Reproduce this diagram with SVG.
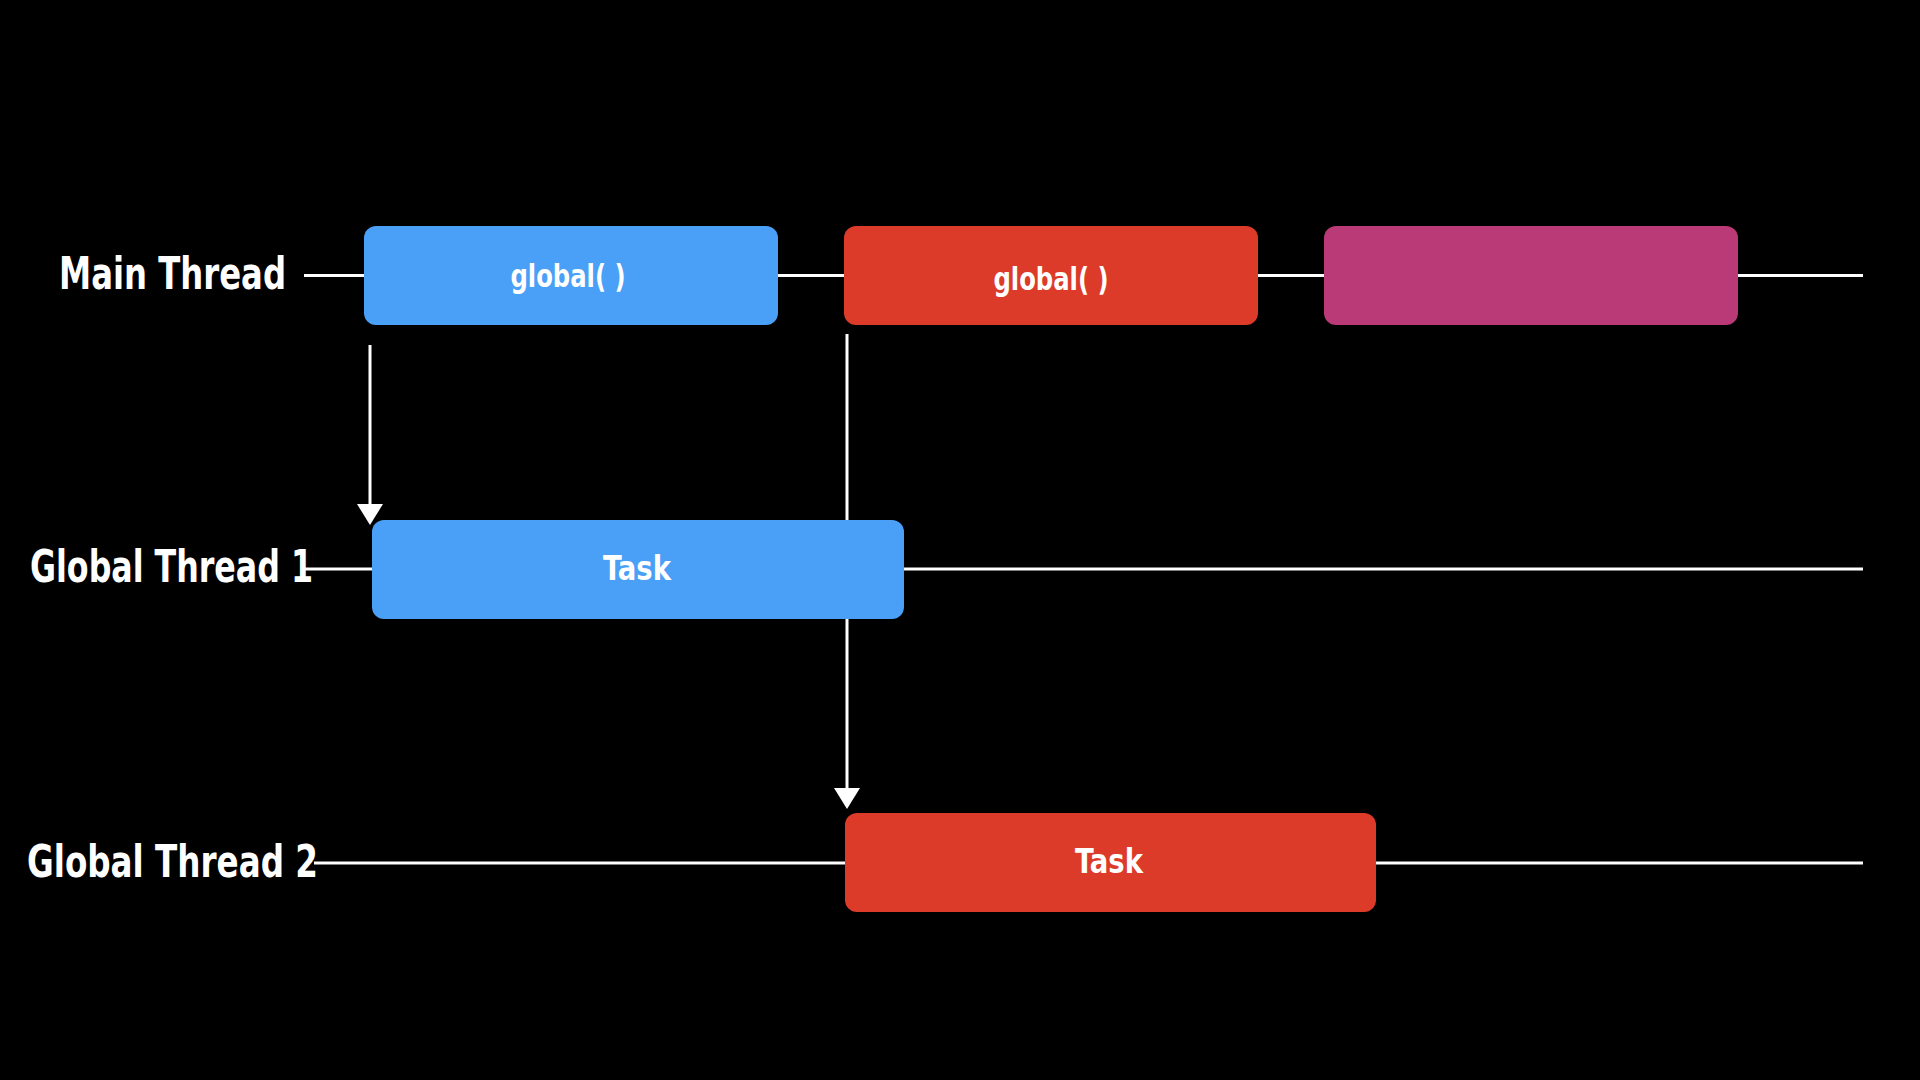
<svg xmlns="http://www.w3.org/2000/svg" width="1920" height="1080" viewBox="0 0 1920 1080">
  <style>
    .lane { stroke: #ffffff; stroke-width: 3; fill: none; }
    .arrow { stroke: #ffffff; stroke-width: 3; fill: none; }
    .label { font-family: "DejaVu Sans Condensed", "DejaVu Sans", "Liberation Sans", sans-serif; font-weight: bold; fill: #ffffff; font-size: 44px; }
    .btext { font-family: "DejaVu Sans Condensed", "DejaVu Sans", "Liberation Sans", sans-serif; font-weight: bold; fill: #ffffff; text-anchor: middle; }
    .blue { fill: #4AA0F7; }
    .red { fill: #DB3B28; }
    .magenta { fill: #B93A77; }
  </style>
  <defs>
    <marker id="head" viewBox="0 -13 21 26" markerWidth="21" markerHeight="26" refX="0" refY="0" orient="auto" markerUnits="userSpaceOnUse">
      <path d="M0,-13 L21,0 L0,13 Z" fill="#ffffff"/>
    </marker>
  </defs>
  <rect x="0" y="0" width="1920" height="1080" fill="#000000"/>

  <g id="labels">
    <text class="label" x="59" y="289" textLength="227" lengthAdjust="spacingAndGlyphs">Main Thread</text>
    <text class="label" x="30" y="582" textLength="283" lengthAdjust="spacingAndGlyphs">Global Thread 1</text>
    <text class="label" x="27" y="877" textLength="291" lengthAdjust="spacingAndGlyphs">Global Thread 2</text>
  </g>

  <g id="connectors">
    <line class="lane" x1="304" y1="275.5" x2="1863" y2="275.5"/>
    <line class="lane" x1="304" y1="569" x2="1863" y2="569"/>
    <line class="lane" x1="314" y1="863" x2="1863" y2="863"/>
    <line class="arrow" x1="370" y1="345" x2="370" y2="504" marker-end="url(#head)"/>
    <line class="arrow" x1="847" y1="334" x2="847" y2="788" marker-end="url(#head)"/>
  </g>

  <g id="main-global-1">
    <rect class="blue" x="364" y="226" width="414" height="99" rx="12"/>
    <text class="btext" x="568" y="287" font-size="32" textLength="115" lengthAdjust="spacingAndGlyphs">global( )</text>
  </g>
  <g id="main-global-2">
    <rect class="red" x="844" y="226" width="414" height="99" rx="12"/>
    <text class="btext" x="1051" y="290" font-size="32" textLength="115" lengthAdjust="spacingAndGlyphs">global( )</text>
  </g>
  <g id="main-other">
    <rect class="magenta" x="1324" y="226" width="414" height="99" rx="12"/>
  </g>
  <g id="thread1-task">
    <rect class="blue" x="372" y="520" width="532" height="99" rx="12"/>
    <text class="btext" x="637" y="580" font-size="34" textLength="68" lengthAdjust="spacingAndGlyphs">Task</text>
  </g>
  <g id="thread2-task">
    <rect class="red" x="845" y="813" width="531" height="99" rx="12"/>
    <text class="btext" x="1109" y="873" font-size="34" textLength="68" lengthAdjust="spacingAndGlyphs">Task</text>
  </g>
</svg>
